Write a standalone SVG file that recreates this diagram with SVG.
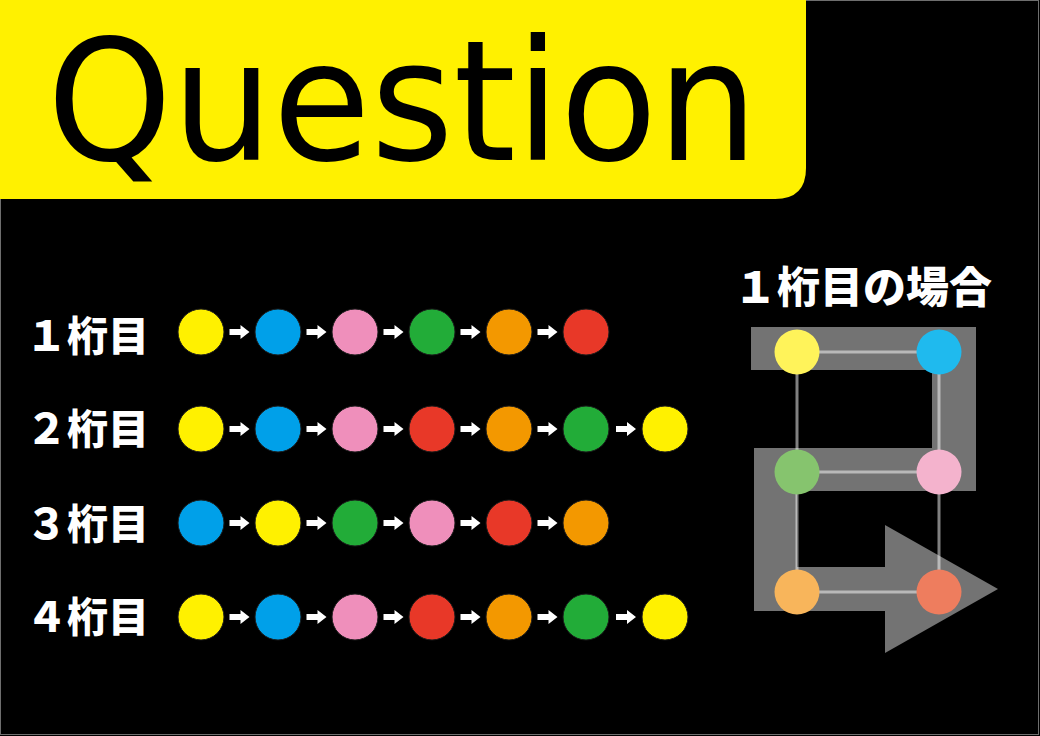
<svg xmlns="http://www.w3.org/2000/svg" width="1040" height="736" viewBox="0 0 1040 736">
<style>
.lbl{font-family:"Noto Sans CJK JP","Noto Sans",sans-serif;font-weight:900;fill:#fff;font-size:41px}
.c{stroke:#1a1a1a;stroke-width:1}
.Y{fill:#fff100}.B{fill:#00a0e9}.P{fill:#ef8fbb}.G{fill:#22ac38}.O{fill:#f39800}.R{fill:#e83828}
.ar{fill:#fff}
.gl{stroke:#fff;stroke-opacity:0.5;stroke-width:3;fill:none}
</style>
<defs>
<path id="arr" d="M-10,-3 H1 V-7 L10,0 L1,7 V3 H-10 Z"/>
</defs>
<rect x="0" y="0" width="1040" height="736" fill="#000"/>
<rect x="0.5" y="0.5" width="1038" height="734" fill="none" stroke="#6e6e6e" stroke-width="1"/>
<g id="header">
<path d="M0,0 H806 V168 Q806,199 775,199 H0 Z" fill="#fff100"/>
<text x="47" y="160" font-family="DejaVu Sans, sans-serif" font-size="168" textLength="711" lengthAdjust="spacingAndGlyphs" fill="#000">Question</text>
</g>
<g id="labels">
<text class="lbl" x="26" y="351">１桁目</text>
<text class="lbl" x="26" y="444">２桁目</text>
<text class="lbl" x="26" y="539">３桁目</text>
<text class="lbl" x="26" y="632">４桁目</text>
</g>
<g id="connectors">
<g class="ar">
<use href="#arr" x="239.5" y="332"/><use href="#arr" x="316.5" y="332"/><use href="#arr" x="393.5" y="332"/><use href="#arr" x="470.5" y="332"/><use href="#arr" x="547.5" y="332"/>
<use href="#arr" x="239.5" y="429"/><use href="#arr" x="316.5" y="429"/><use href="#arr" x="393.5" y="429"/><use href="#arr" x="470.5" y="429"/><use href="#arr" x="547.5" y="429"/><use href="#arr" x="626" y="429"/>
<use href="#arr" x="239.5" y="523"/><use href="#arr" x="316.5" y="523"/><use href="#arr" x="393.5" y="523"/><use href="#arr" x="470.5" y="523"/><use href="#arr" x="547.5" y="523"/>
<use href="#arr" x="239.5" y="617"/><use href="#arr" x="316.5" y="617"/><use href="#arr" x="393.5" y="617"/><use href="#arr" x="470.5" y="617"/><use href="#arr" x="547.5" y="617"/><use href="#arr" x="626" y="617"/>
</g>
</g>
<g id="row1">
<circle class="c Y" cx="201" cy="332" r="23"/><circle class="c B" cx="278" cy="332" r="23"/><circle class="c P" cx="355" cy="332" r="23"/><circle class="c G" cx="432" cy="332" r="23"/><circle class="c O" cx="509" cy="332" r="23"/><circle class="c R" cx="586" cy="332" r="23"/>
</g>
<g id="row2">
<circle class="c Y" cx="201" cy="429" r="23"/><circle class="c B" cx="278" cy="429" r="23"/><circle class="c P" cx="355" cy="429" r="23"/><circle class="c R" cx="432" cy="429" r="23"/><circle class="c O" cx="509" cy="429" r="23"/><circle class="c G" cx="586" cy="429" r="23"/><circle class="c Y" cx="665" cy="429" r="23"/>
</g>
<g id="row3">
<circle class="c B" cx="201" cy="523" r="23"/><circle class="c Y" cx="278" cy="523" r="23"/><circle class="c G" cx="355" cy="523" r="23"/><circle class="c P" cx="432" cy="523" r="23"/><circle class="c R" cx="509" cy="523" r="23"/><circle class="c O" cx="586" cy="523" r="23"/>
</g>
<g id="row4">
<circle class="c Y" cx="201" cy="617" r="23"/><circle class="c B" cx="278" cy="617" r="23"/><circle class="c P" cx="355" cy="617" r="23"/><circle class="c R" cx="432" cy="617" r="23"/><circle class="c O" cx="509" cy="617" r="23"/><circle class="c G" cx="586" cy="617" r="23"/><circle class="c Y" cx="665" cy="617" r="23"/>
</g>
<g id="example">
<text class="lbl" x="734" y="303" style="font-size:43px">１桁目の場合</text>
<path d="M751,327 H976 V491 H797 V567 H885 V525 L998,589 L885,653 V611 H754 V448 H932 V370 H751 Z" fill="#737373"/>
<g class="gl">
<path d="M797,352 H939 M797,472 H939 M797,592 H939 M797,352 V592 M939,352 V592"/>
</g>
<circle cx="797" cy="352" r="22.5" fill="#fff35a"/>
<circle cx="939" cy="352" r="22.5" fill="#1fbaee"/>
<circle cx="797" cy="472" r="22.5" fill="#86c46e"/>
<circle cx="939" cy="472" r="22.5" fill="#f4b3cd"/>
<circle cx="797" cy="592" r="22.5" fill="#f8b55b"/>
<circle cx="939" cy="592" r="22.5" fill="#ee7d5e"/>
</g>
</svg>
